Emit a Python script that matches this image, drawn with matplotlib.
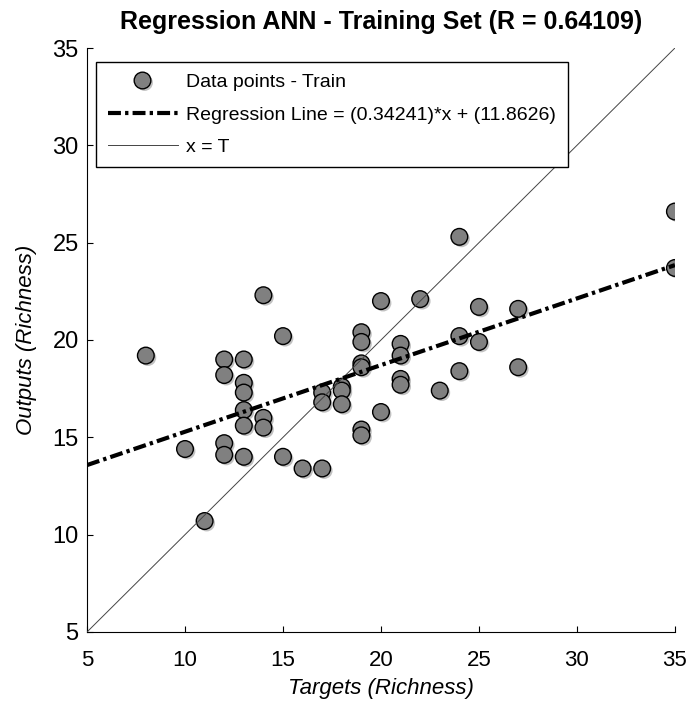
# Regression plot - ANN training set (targets vs outputs)
import numpy as np
import matplotlib
matplotlib.use('Agg')
import matplotlib.pyplot as plt
import matplotlib.patheffects as pe

plt.rcParams['font.family'] = ['Liberation Sans', 'DejaVu Sans']

# Data
targets = [8, 10, 11,
           12, 12, 12, 12,
           13, 13, 13, 13, 13, 13,
           14, 14, 14,
           15, 15, 16,
           17, 17, 17,
           18, 18, 18,
           19, 19, 19, 19, 19, 19,
           20, 20,
           21, 21, 21, 21,
           22, 23,
           24, 24, 24,
           25, 25,
           27, 27,
           35, 35]
outputs = [19.2, 14.4, 10.7,
           19.0, 18.2, 14.7, 14.1,
           19.0, 17.8, 17.3, 16.4, 15.6, 14.0,
           22.3, 16.0, 15.5,
           20.2, 14.0, 13.4,
           17.3, 16.8, 13.4,
           17.6, 17.4, 16.7,
           20.4, 19.9, 18.8, 18.6, 15.4, 15.1,
           22.0, 16.3,
           19.8, 19.2, 18.0, 17.7,
           22.1, 17.4,
           25.3, 20.2, 18.4,
           21.7, 19.9,
           21.6, 18.6,
           26.6, 23.7]

slope = 0.34241
intercept = 11.8626
r_value = 0.64109
axis_min, axis_max = 5, 35
ticks = [5, 10, 15, 20, 25, 30, 35]

fig = plt.figure(figsize=(6.88, 7.04), dpi=100)
ax = fig.add_axes([0.1265, 0.1023, 0.8545, 0.8295])

shadow = [pe.SimplePatchShadow(offset=(1.5, -1.5), shadow_rgbFace='#999999', alpha=0.6), pe.Normal()]
ax.plot(targets, outputs, 'o', markersize=12, markerfacecolor='#808080',
        markeredgecolor='black', markeredgewidth=1.0, label='Data points - Train',
        path_effects=shadow, zorder=3)

xl = np.array([axis_min, axis_max])
ax.plot(xl, slope * xl + intercept, color='black', linewidth=3,
        linestyle=(0, (3.1, 1, 0.8, 1)),
        label=f'Regression Line = ({slope})*x + ({intercept})', zorder=5)
ax.plot(xl, xl, color='#444444', linewidth=0.7, label='x = T', zorder=4)

ax.set_xlim(axis_min, axis_max)
ax.set_ylim(axis_min, axis_max)
ax.set_xticks(ticks)
ax.set_yticks(ticks)
ax.tick_params(direction='in', length=4)
ax.tick_params(axis='x', labelsize=16, pad=13)
ax.tick_params(axis='y', labelsize=17, pad=6)
ax.spines['top'].set_visible(False)
ax.spines['right'].set_visible(False)

ax.set_xlabel('Targets (Richness)', fontsize=16, style='italic', labelpad=5)
ax.set_ylabel('Outputs (Richness)', fontsize=16, style='italic', labelpad=11)
ax.set_title(f'Regression ANN - Training Set (R = {r_value})', fontsize=18,
             fontweight='bold', pad=14)

leg = ax.legend(loc='upper left', bbox_to_anchor=(0.015, 0.976), fontsize=14,
                fancybox=False, framealpha=1, edgecolor='black',
                handlelength=3.6, handletextpad=0.45, labelspacing=0.75,
                borderpad=0.6, borderaxespad=0)
leg.get_frame().set_linewidth(1.0)

fig.savefig('out.png', dpi=100)
